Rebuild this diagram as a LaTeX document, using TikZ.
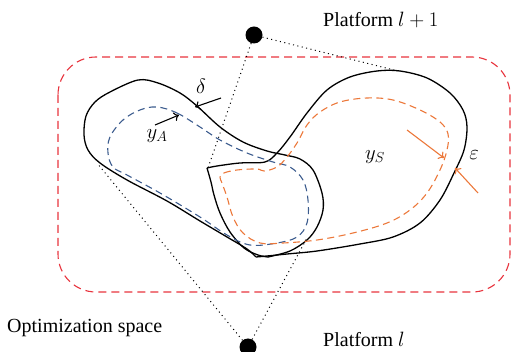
\documentclass[tikz,border=0pt]{standalone}
\usepackage{fontspec}
\setmainfont{Liberation Serif}
\usetikzlibrary{arrows.meta}
\definecolor{redd}{RGB}{232,52,62}
\definecolor{blued}{RGB}{60,92,142}
\definecolor{oranged}{RGB}{236,120,58}
\tikzset{
  blackline/.style={black,line width=1.3pt,line join=round},
  reddash/.style={redd,line width=1.1pt,dash pattern=on 8pt off 5pt},
  bluedash/.style={blued,line width=1.1pt,dash pattern=on 7pt off 4.5pt},
  orangedash/.style={oranged,line width=1.1pt,dash pattern=on 7pt off 4.5pt},
  dotline/.style={black,line width=1pt,dash pattern=on 1pt off 3.5pt},
  platdot/.style={circle,fill=black,inner sep=0pt,minimum size=17pt},
  lab/.style={inner sep=0pt,font=\fontsize{20}{24}\selectfont},
  mlab/.style={inner sep=0pt,font=\fontsize{22}{26}\selectfont},
  arr/.style={-{To[length=5pt,width=9pt]},line width=1.1pt}
}
\begin{document}
\begin{tikzpicture}[x=1pt,y=-1pt]
\useasboundingbox (0,0) rectangle (514,352);
\clip (0,0) rectangle (514,352);
% optimization space
\draw[reddash,rounded corners=38pt] (58,57) rectangle (510,292);
% platforms
\node[platdot] (ptop) at (254,35) {};
\node[platdot] (pbot) at (248,347) {};
\coordinate (tA) at (398,71);
\coordinate (tB) at (208,168);
\coordinate (bA) at (97,163);
\coordinate (bB) at (307,238);
\draw[dotline] (ptop) -- (tA);
\draw[dotline] (ptop) -- (tB);
\draw[dotline] (pbot) -- (bA);
\draw[dotline] (pbot) -- (bB);
% left blob (A outer)
\draw[blackline] plot[smooth,tension=0.55] coordinates {
 (256,257) (247,249) (227,237) (200,221) (167,201) (127,180) (100,163)
 (88,150) (84,135) (86,116) (95,102) (110,92) (138,80) (158,83) (180,93)
 (197,106) (220,127) (243,142) (267,151) (285,155) (300,159) (313,170)
 (322,193) (323,210) (317,227) (307,240) (290,251) (268,257)};
% middle left side
\draw[blackline] plot[smooth,tension=0.55] coordinates {
 (207,168) (211,182) (214,195) (220,213) (230,232) (244,248) (258,255) (268,257)};
% right blob (S outer)
\draw[blackline] plot[smooth,tension=0.55] coordinates {
 (207,168) (217,166) (240,163) (265,162) (277,153) (290,137) (307,113)
 (327,90) (350,77) (377,71) (400,71) (427,78) (450,93) (463,110) (467,127)
 (464,150) (454,173) (440,200) (420,223) (393,237) (360,244) (317,251)
 (287,254) (267,256) (256,257)};
% A inner (blue)
\draw[bluedash] plot[smooth cycle,tension=0.6] coordinates {
 (157,107) (177,113) (200,127) (220,140) (247,153) (273,162) (290,167)
 (303,180) (308,200) (307,223) (297,237) (277,243) (250,245) (227,235)
 (200,217) (160,193) (127,175) (113,167) (108,153) (110,137) (123,120) (140,110)};
% S inner (orange)
\draw[orangedash] plot[smooth cycle,tension=0.6] coordinates {
 (220,177) (224,173) (237,170) (257,169) (264,171) (277,167) (287,157)
 (297,143) (307,125) (320,112) (340,102) (367,98) (393,100) (420,110)
 (440,122) (448,134) (447,150) (440,170) (427,193) (410,210) (387,223)
 (353,233) (317,240) (283,243) (260,243) (243,233) (233,217) (227,197) (222,183)};
% arrows
\coordinate (d1) at (221,98);
\coordinate (d2) at (195,107);
\draw[arr] (d1) -- (d2);
\coordinate (a1) at (155,125);
\coordinate (a2) at (179,115);
\draw[arr] (a1) -- (a2);
\coordinate (e1) at (407,130);
\coordinate (e2) at (444,158);
\draw[arr,oranged] (e1) -- (e2);
\coordinate (e3) at (478,193);
\coordinate (e4) at (455,168);
\draw[arr,oranged] (e3) -- (e4);
% labels
\node[mlab] (ldelta) at (201,86) {$\delta$};
\node[mlab] (lyA) at (157,136) {$y_A$};
\node[mlab] (lyS) at (375,157) {$y_S$};
\node[mlab] (leps) at (474,155) {$\varepsilon$};
\node[lab,anchor=base west] (lp1) at (323,27) {Platform $l+1$};
\node[lab,anchor=base west] (lp0) at (323,347) {Platform $l$};
\node[lab,anchor=base west] (lopt) at (7,333) {Optimization space};
\end{tikzpicture}
\end{document}
